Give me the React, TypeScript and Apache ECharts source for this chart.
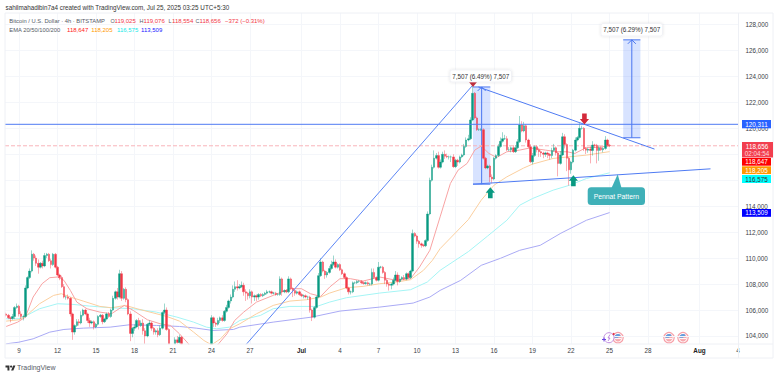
import React, { useEffect, useRef } from "react";
import * as echarts from "echarts";

const FONT = '"Liberation Sans", Arial, sans-serif';
const GREEN = "#089981";
const RED = "#f23645";

// x values are days counted from 9 June; every row below is one day of six 4h candles, starting on 8 June
const firstDay = -1;
const candlesPerDay = 6;
const axisMin = 103382;
const axisMax = 128888;

const closes = [
  105600, 105400, 105350, 105500, 106200, 106300,
  105700, 105500, 105500, 107700, 108500, 109000,
  110300, 110000, 109600, 109300, 109600, 109400,
  110200, 110300, 109800, 109500, 110300, 109300,
  108700, 108500, 107800, 107000, 107000, 106900,
  105700, 104300, 104800, 105100, 105000, 105600,
  106000, 105700, 105200, 105000, 105100, 104700,
  104900, 105500, 105600, 105100, 105300, 105700,
  105500, 106000, 106900, 107400, 107000, 108800,
  106900, 107600, 106800, 105700, 104200, 104600,
  104700, 105200, 104800, 105000, 104400, 104000,
  104900, 105000, 104600, 104300, 104400, 104100,
  104600, 105800, 106000, 104500, 103200, 102900,
  103100, 103700, 103500, 103900, 103200, 102500,
  102000, 101500, 100800, 100500, 100200, 99500,
  100800, 100500, 100700, 101000, 101500, 102400,
  105400, 105000, 104900, 105200, 105400, 105200,
  105900, 106200, 106700, 107000, 107600, 107800,
  107700, 107800, 107900, 107400, 107300, 107100,
  107400, 107000, 107100, 107000, 107200, 107100,
  107200, 107300, 107400, 107400, 107300, 107300,
  107200, 107200, 108400, 107400, 107500, 107400,
  108400, 107650, 107500, 107300, 107400, 107200,
  107100, 107100, 107000, 107000, 106000, 105450,
  106200, 107000, 108650, 109700, 109000, 108700,
  108900, 109200, 109500, 109700, 109300, 109500,
  109100, 108800, 108500, 107700, 107400, 107400,
  108100, 108100, 108200, 108200, 108100, 108050,
  108100, 108000, 108000, 108900, 108500, 108300,
  109300, 109300, 108900, 108300, 108000, 107900,
  108000, 108300, 108700, 108200, 108400, 108500,
  108400, 108800, 108500, 109000, 111900, 111700,
  111300, 111100, 111000, 110950, 111350, 113400,
  116000, 117000, 117700, 117900, 117000, 117400,
  118000, 117850, 117800, 117800, 117800, 117050,
  117550, 117400, 117800, 117950, 118600, 119100,
  119200, 120650, 122700, 120800, 119900, 119900,
  119900, 117700, 116950, 117100, 116250, 116100,
  117700, 117900, 118600, 119000, 119200, 119200,
  118350, 118350, 118500, 118200, 118500, 118970,
  120250, 119800, 120200, 119100, 118580, 117420,
  117900, 118580, 118350, 118200, 118100, 118000,
  118100, 118000, 117900, 118300, 118500, 118100,
  117300, 117950, 119350, 118750, 117700, 116800,
  117400, 118320, 119100, 119300, 120000, 120000,
  118450, 118320, 118400, 118300, 118710, 118700,
  118300, 118500, 118350, 118450, 119100, 118700,
  118656,
];

const upperWicks = [
  100, 100, 100, 200, 100, 200,
  100, 200, 150, 200, 100, 200,
  300, 100, 200, 300, 100, 200,
  200, 100, 100, 150, 100, 100,
  100, 100, 150, 200, 100, 200,
  100, 100, 100, 200, 200, 300,
  100, 100, 100, 200, 100, 100,
  100, 100, 100, 100, 100, 100,
  150, 100, 200, 100, 300, 300,
  200, 100, 150, 100, 200, 100,
  200, 100, 200, 200, 300, 200,
  100, 200, 100, 100, 100, 200,
  200, 100, 500, 200, 100, 100,
  100, 200, 300, 200, 100, 100,
  100, 100, 100, 100, 100, 100,
  100, 100, 100, 100, 100, 100,
  200, 100, 100, 200, 100, 200,
  100, 200, 100, 200, 300, 400,
  500, 200, 300, 200, 200, 100,
  200, 100, 100, 100, 100, 100,
  100, 100, 150, 100, 100, 100,
  100, 100, 200, 100, 100, 100,
  200, 100, 100, 100, 100, 100,
  100, 100, 100, 100, 100, 100,
  100, 100, 200, 300, 100, 100,
  100, 200, 300, 500, 200, 100,
  100, 100, 100, 100, 100, 100,
  100, 100, 100, 100, 100, 100,
  100, 100, 100, 300, 300, 100,
  400, 100, 100, 100, 100, 100,
  100, 200, 300, 200, 300, 100,
  200, 100, 100, 100, 300, 100,
  100, 100, 100, 100, 100, 200,
  200, 200, 600, 200, 300, 200,
  200, 300, 200, 100, 100, 200,
  100, 100, 100, 100, 200, 200,
  300, 200, 645, 100, 100, 100,
  100, 100, 100, 100, 100, 200,
  100, 100, 200, 300, 500, 300,
  200, 200, 100, 200, 200, 200,
  700, 300, 300, 100, 100, 200,
  200, 100, 100, 100, 100, 100,
  100, 100, 100, 200, 300, 100,
  100, 300, 300, 200, 100, 100,
  100, 100, 200, 100, 400, 200,
  100, 100, 100, 200, 300, 100,
  100, 200, 100, 100, 300, 100,
  100,
];

const lowerWicks = [
  100, 100, 300, 100, 200, 100,
  200, 200, 300, 100, 100, 100,
  100, 200, 200, 500, 100, 200,
  100, 200, 100, 300, 100, 100,
  100, 200, 100, 100, 200, 100,
  200, 600, 200, 100, 200, 100,
  100, 100, 200, 300, 100, 200,
  100, 100, 100, 200, 100, 100,
  100, 100, 100, 100, 200, 100,
  200, 100, 200, 100, 600, 300,
  200, 100, 300, 100, 300, 800,
  100, 100, 200, 200, 200, 200,
  100, 100, 100, 100, 300, 300,
  100, 100, 100, 100, 300, 300,
  200, 200, 200, 200, 300, 600,
  200, 200, 200, 200, 200, 200,
  300, 300, 200, 100, 200, 100,
  100, 100, 100, 200, 100, 200,
  200, 100, 100, 300, 600, 300,
  200, 500, 300, 300, 200, 100,
  100, 100, 100, 100, 100, 100,
  100, 100, 100, 300, 100, 100,
  100, 100, 500, 200, 100, 100,
  100, 200, 100, 200, 200, 300,
  100, 100, 100, 100, 100, 300,
  200, 100, 100, 100, 100, 100,
  100, 100, 100, 100, 200, 200,
  100, 100, 100, 100, 100, 100,
  100, 100, 100, 100, 100, 100,
  100, 100, 100, 300, 200, 400,
  300, 100, 100, 300, 100, 100,
  100, 100, 100, 100, 100, 100,
  200, 300, 200, 100, 100, 100,
  100, 100, 100, 100, 100, 100,
  100, 200, 100, 200, 400, 100,
  100, 300, 100, 100, 100, 100,
  100, 100, 100, 100, 100, 100,
  100, 100, 100, 100, 400, 350,
  100, 100, 100, 100, 100, 100,
  100, 100, 200, 100, 100, 100,
  100, 100, 100, 200, 100, 100,
  200, 100, 200, 400, 300, 300,
  200, 300, 300, 200, 100, 200,
  1000, 100, 100, 300, 1000, 1200,
  300, 100, 100, 100, 100, 100,
  200, 300, 200, 1000, 400, 200,
  1000, 800, 100, 200, 100, 100,
  100,
];

const ema20 = [
  [-1, 104734], [-0.1, 105068], [0.5, 105455], [1.1, 107000], [1.8, 108029], [2.4, 108492], [3, 108543],
  [3.5, 108286], [4, 107514], [4.5, 106613], [5.3, 106098], [6.3, 105840], [7.2, 105712], [8.2, 106355],
  [8.9, 105969], [10, 105249], [11, 104940], [11.8, 104811], [12.5, 104168], [13.2, 103396], [14, 102000],
  [15, 101800], [15.5, 103344], [16.2, 104168], [16.8, 105197], [17.5, 105838], [18.5, 106613], [19.8, 107128],
  [21.1, 107642], [22, 107642], [22.7, 107256], [23.5, 107050], [24.2, 107771], [25, 108415], [25.8, 108415],
  [26.8, 108234], [28.1, 108543], [29.4, 108286], [30.5, 108415], [31.2, 109316], [32, 110603], [32.8, 113177],
  [33.6, 115750], [34.2, 116780], [34.9, 117295], [35.5, 118324], [36, 118633], [36.6, 118067], [37.2, 117758],
  [38, 118196], [39, 118324], [39.8, 118490], [41, 118324], [41.9, 118195], [42.7, 118195], [43.3, 118066],
  [44.2, 118530], [45, 118530], [46, 118647],
];
const ema50 = [
  [-1, 105145], [0, 105249], [0.6, 105583], [1.6, 106484], [2.7, 107128], [3.3, 107257], [4, 107000],
  [5, 106690], [6.3, 106278], [7.2, 106175], [8.3, 106355], [9.2, 106098], [10.2, 105840], [11.5, 105506],
  [12.5, 105145], [13.6, 104296], [14.4, 103653], [15, 103318], [15.7, 103781], [16.4, 104554], [17.2, 104940],
  [18.5, 105712], [19.8, 106355], [21.1, 106690], [22.4, 106793], [23.5, 107000], [24.2, 107308], [25.5, 107720],
  [26.8, 107822], [28.1, 108028], [29.4, 108157], [30.5, 108337], [31.5, 109058], [32.2, 109830], [32.8, 110731],
  [35, 112970], [36, 114463], [37, 115622], [38, 116265], [39.3, 116940], [40, 117243], [41.6, 117680],
  [42.9, 117809], [44.2, 117938], [46, 118205],
];
const ema100 = [
  [-1, 105326], [0, 105326], [0.6, 105583], [1.6, 106098], [3, 106484], [4.2, 106433], [5.5, 106304],
  [7.2, 106175], [8.9, 106098], [10.7, 105840], [12.3, 105455], [13.6, 105068], [14.6, 104682], [15.4, 104554],
  [16.4, 104682], [17.2, 105197], [18.8, 105583], [19.8, 106100], [21.1, 106278], [23.2, 106278], [24.2, 106613],
  [25.5, 106948], [28.1, 107308], [30.5, 107565], [31.8, 108157], [32.8, 109058], [35, 110500], [36.5, 111700],
  [38, 112919], [39, 114077], [40, 114592], [41.6, 115235], [42.9, 115621], [44.2, 116136], [46, 116575],
];
const ema200 = [
  [-1, 103396], [0, 103524], [1.1, 103781], [2.4, 104296], [3.5, 104502], [5, 104605], [7.1, 104682],
  [8.6, 104862], [10.7, 104811], [12.5, 104734], [13.8, 104605], [15.1, 104425], [16.7, 104502], [17.2, 104682],
  [19.8, 105068], [22.8, 105455], [25, 105918], [28.1, 106227], [30.7, 106536], [32, 107000], [32.8, 107514],
  [34.4, 108286], [36, 109444], [37.5, 109985], [39, 110602], [40.6, 110988], [42.2, 111915], [44.2, 112920],
  [46, 113509],
];

const yTicks = [104000, 106000, 108000, 110000, 112000, 114000, 116000, 118000, 120000, 122000, 124000, 126000, 128000];
const yLabels = [104000, 106000, 108000, 110000, 112000, 114000, 120000, 122000, 124000, 126000, 128000];
const xTicks: [number, string][] = [
  [0, "9"], [3, "12"], [6, "15"], [9, "18"], [12, "21"], [15, "24"], [18, "27"], [22, "Jul"], [25, "4"], [28, "7"],
  [31, "10"], [34, "13"], [37, "16"], [40, "19"], [43, "22"], [46, "25"], [49, "28"], [53, "Aug"], [56, "4"],
];

const resistance = 120311;
const lastPrice = 118656;
const impulseLine = [[17.69, 103344], [35.36, 123344]];
const upperTrend = [[35.78, 123189], [49.5, 118402]];
const lowerTrend = [[35.36, 115699], [53.86, 116880]];
// dayFrom, dayTo, priceTop, priceBottom
const measures = [
  [35.36, 36.71, 123189, 115699],
  [47.06, 48.4, 126819, 119274],
];
// day, tip price, direction (1 up / -1 down), colour index, size
const arrows = [
  [36.71, 115467, 1, 0, 1],
  [43.18, 116394, 1, 0, 1],
  [44.04, 120294, -1, 1, 1],
  [35.36, 123189, -1, 2, 0.7],
];
const arrowColours = [GREEN, "#d3293a", "#c2303f"];

const flagXs = [618, 669, 683];

const logoPath = "M14 25H7V14H0V7h14v18zM28 25h-8l7.5-18h8L28 25zM24 11a4 4 0 1 1-8 0 4 4 0 0 1 8 0z";

function App() {
  const ref = useRef<HTMLDivElement>(null);
  useEffect(() => {
    const chart = echarts.init(ref.current!, undefined, { renderer: "svg" });
    echarts.graphic.registerShape("tvlogoMark", echarts.graphic.extendPath(logoPath as any, {} as any) as any);
    // the pane cuts candles off at its lower edge, as the reference does
    const cut = (v: number) => Math.max(v, axisMin);
    const candles = closes
      .map((c, i) => {
        const o = i === 0 ? 105700 : closes[i - 1];
        return [
          firstDay + i / candlesPerDay,
          cut(o),
          cut(c),
          cut(Math.min(o, c) - lowerWicks[i]),
          Math.max(o, c) + upperWicks[i],
        ];
      })
      .filter((d) => d[4] > axisMin);
    const lineSeries = (data: any, color: string, width = 1, type = "solid", z = 3) => ({
      type: "line",
      data,
      showSymbol: false,
      silent: true,
      z,
      lineStyle: { color, width, type },
    });
    const txt = (x: number, y: number, text: string, fill: string, extra: any = {}) => ({
      type: "text",
      x,
      y,
      z: 200,
      silent: true,
      style: { text, fill, font: `6.3px ${FONT}`, textVerticalAlign: "middle", ...extra },
    });
    const badge = (top: number, h: number, fill: string, text: string, color: string) => [
      { type: "rect", z: 190, silent: true, shape: { x: 742, y: top, width: 29, height: h }, style: { fill } },
      txt(756.5, top + h / 2, text, color, { textAlign: "center" }),
    ];
    const flag = (x: number) => ({
      type: "group",
      x,
      y: 337.7,
      z: 150,
      silent: true,
      children: [
        { type: "circle", shape: { r: 5.2 }, style: { fill: "#fff", stroke: "#f7a0a8", lineWidth: 1.2 } },
        { type: "circle", shape: { r: 3.7 }, style: { fill: "#f8aab0" } },
        { type: "sector", shape: { r: 3.7, startAngle: Math.PI, endAngle: Math.PI * 1.75 }, style: { fill: "#5f9fe0" } },
        { type: "rect", shape: { x: -3.5, y: 0.4, width: 7, height: 1 }, style: { fill: "#fff" } },
      ],
    });
    const option: any = {
      animation: false,
      backgroundColor: "#ffffff",
      grid: { left: 5, right: 41.5, top: 13, bottom: 32, containLabel: false },
      xAxis: {
        type: "value",
        min: -1.09,
        max: 56.04,
        axisLine: { show: false },
        axisTick: { show: false, customValues: xTicks.map((t) => t[0]) },
        splitLine: { show: true, lineStyle: { color: "#f4f6fa", width: 1 } },
        axisLabel: {
          customValues: xTicks.map((t) => t[0]),
          hideOverlap: false,
          showMinLabel: true,
          showMaxLabel: true,
          margin: 3.5,
          color: "#3a3d46",
          fontFamily: FONT,
          fontSize: 6.3,
          formatter: (v: number) => {
            const s = (xTicks.find((t) => t[0] === v) || [0, ""])[1] as string;
            return s === "Jul" || s === "Aug" ? `{b|${s}}` : s;
          },
          rich: { b: { fontWeight: "bold", color: "#222", fontFamily: FONT, fontSize: 6.3 } },
        },
      },
      yAxis: {
        type: "value",
        position: "right",
        min: axisMin,
        max: axisMax,
        axisLine: { show: false },
        axisTick: { show: false, customValues: yTicks },
        splitLine: { show: true, lineStyle: { color: "#f4f6fa", width: 1 } },
        axisLabel: {
          customValues: yLabels,
          hideOverlap: false,
          margin: 7,
          color: "#3a3d46",
          fontFamily: FONT,
          fontSize: 6.3,
          formatter: (v: number) => v.toLocaleString("en-US"),
        },
      },
      series: [
        {
          type: "custom",
          z: 1,
          silent: true,
          data: measures,
          encode: { x: [0, 1], y: [2, 3] },
          renderItem: (_: any, api: any) => {
            const a = api.coord([api.value(0), api.value(2)]);
            const b = api.coord([api.value(1), api.value(3)]);
            const mid = (a[0] + b[0]) / 2;
            const line = (x1: number, y1: number, x2: number, y2: number) => ({
              type: "line",
              shape: { x1, y1, x2, y2 },
              style: { stroke: "#4a76f0", lineWidth: 1 },
            });
            return {
              type: "group",
              children: [
                { type: "rect", shape: { x: a[0], y: a[1], width: b[0] - a[0], height: b[1] - a[1] }, style: { fill: "rgba(41,98,255,0.18)" } },
                line(a[0], a[1], b[0], a[1]),
                line(a[0], b[1], b[0], b[1]),
                line(mid, a[1], mid, b[1]),
                line(mid, a[1], mid - 4, a[1] + 4),
                line(mid, a[1], mid + 4, a[1] + 4),
              ],
            };
          },
        },
        lineSeries(ema200, "#aaaaf5"),
        lineSeries(ema100, "#a5f5f5"),
        lineSeries(ema50, "#fbcf9f"),
        lineSeries(ema20, "#f8a3a3"),
        {
          type: "candlestick",
          z: 4,
          silent: true,
          barWidth: 2,
          data: candles,
          encode: { x: 0, y: [1, 2, 3, 4] },
          itemStyle: { color: GREEN, color0: RED, borderColor: GREEN, borderColor0: RED, borderWidth: 0.4 },
        },
        lineSeries([[-1.09, lastPrice], [56.04, lastPrice]], "#f9b4ba", 1, "dashed", 2),
        lineSeries([[-1.09, resistance], [56.04, resistance]], "#4f7bf3", 1, "solid", 5),
        lineSeries(impulseLine, "#5b85f5", 1, "solid", 5),
        lineSeries(upperTrend, "#4f7bf3", 1, "solid", 5),
        lineSeries(lowerTrend, "#4f7bf3", 1, "solid", 5),
        {
          type: "custom",
          z: 6,
          silent: true,
          data: arrows,
          encode: { x: 0, y: 1 },
          renderItem: (_: any, api: any) => {
            const p = api.coord([api.value(0), api.value(1)]);
            const dir = api.value(2);
            const k = api.value(4);
            const fill = arrowColours[api.value(3)];
            const pts = k < 1
              ? [[-4, -5], [4, -5], [0, 0]]
              : [[0, 0], [4.6, 5.5], [2.3, 5.5], [2.3, 11], [-2.3, 11], [-2.3, 5.5], [-4.6, 5.5]];
            return {
              type: "polygon",
              shape: { points: pts.map((q) => [p[0] + q[0], p[1] + (k < 1 ? q[1] : q[1] * dir)]) },
              style: { fill },
            };
          },
        },
      ],
      graphic: [
        { type: "rect", z: 120, silent: true, shape: { x: 5, y: 13, width: 768, height: 345 }, style: { fill: "none", stroke: "#eef0f5", lineWidth: 1 } },
        { type: "line", z: 120, silent: true, shape: { x1: 738.5, y1: 13, x2: 738.5, y2: 358 }, style: { stroke: "#eef0f5", lineWidth: 1 } },
        { type: "line", z: 120, silent: true, shape: { x1: 5, y1: 344, x2: 773, y2: 344 }, style: { stroke: "#eef0f5", lineWidth: 1 } },
        txt(5.5, 7.5, "sahilmahadibin7a4 created with TradingView.com, Jul 25, 2025 03:25 UTC+5:30", "#333333"),
        txt(9.3, 21, "Bitcoin / U.S. Dollar · 4h · BITSTAMP", "#555a66", { font: `5.8px ${FONT}` }),
        txt(110.5, 21, "O", "#555a66", { font: `5.4px ${FONT}` }),
        txt(114.5, 21, "119,025", RED, { font: `6px ${FONT}` }),
        txt(139.5, 21, "H", "#555a66", { font: `5.4px ${FONT}` }),
        txt(143.5, 21, "119,076", RED, { font: `6px ${FONT}` }),
        txt(168.5, 21, "L", "#555a66", { font: `5.4px ${FONT}` }),
        txt(172, 21, "118,554", RED, { font: `6px ${FONT}` }),
        txt(195.5, 21, "C", "#555a66", { font: `5.4px ${FONT}` }),
        txt(199.5, 21, "118,656", RED, { font: `6px ${FONT}` }),
        txt(225, 21, "−372 (−0.31%)", RED, { font: `6px ${FONT}` }),
        txt(9.3, 29.8, "EMA 20/50/100/200", "#555a66", { font: `5.8px ${FONT}` }),
        txt(67, 29.8, "118,647", "#ff2020", { font: `6px ${FONT}` }),
        txt(91.3, 29.8, "118,205", "#ff9800", { font: `6px ${FONT}` }),
        txt(117, 29.8, "116,575", "#10e8e8", { font: `6px ${FONT}` }),
        txt(141, 29.8, "113,509", "#2020ff", { font: `6px ${FONT}` }),
        { type: "rect", z: 180, silent: true, shape: { x: 450, y: 70, width: 61.5, height: 12, r: 2 }, style: { fill: "#fff", stroke: "#eceef3", lineWidth: 0.7, shadowBlur: 3, shadowColor: "rgba(0,0,0,0.12)" } },
        txt(480.7, 76, "7,507 (6.49%) 7,507", "#333333", { textAlign: "center" }),
        { type: "rect", z: 180, silent: true, shape: { x: 601, y: 23.5, width: 61.5, height: 12.5, r: 2 }, style: { fill: "#fff", stroke: "#eceef3", lineWidth: 0.7, shadowBlur: 3, shadowColor: "rgba(0,0,0,0.12)" } },
        txt(631.7, 29.8, "7,507 (6.29%) 7,507", "#333333", { textAlign: "center" }),
        { type: "polygon", z: 180, silent: true, shape: { points: [[611.5, 188], [617.7, 174.3], [621.5, 188]] }, style: { fill: "#3fb0b8" } },
        { type: "rect", z: 180, silent: true, shape: { x: 587.7, y: 187.3, width: 57.3, height: 17.7, r: 3.5 }, style: { fill: "#3fb0b8" } },
        txt(616.3, 196.3, "Pennat Pattern", "#ffffff", { textAlign: "center", font: `6.8px ${FONT}` }),
        ...flagXs.map(flag),
        { type: "circle", z: 150, silent: true, shape: { cx: 609, cy: 337.7, r: 5 }, style: { fill: "#fff", stroke: "#c48fe0", lineWidth: 1 } },
        { type: "polyline", z: 151, silent: true, shape: { points: [[610, 334.5], [608, 338], [610, 338], [608, 341]] }, style: { stroke: "#b070d8", lineWidth: 0.8, fill: "none" } },
        { type: "line", z: 151, silent: true, shape: { x1: 602, y1: 339.5, x2: 606, y2: 339.5 }, style: { stroke: "#6a45e0", lineWidth: 1 } },
        { type: "line", z: 151, silent: true, shape: { x1: 604, y1: 337.5, x2: 604, y2: 341.5 }, style: { stroke: "#6a45e0", lineWidth: 1 } },
        { type: "circle", z: 152, silent: true, shape: { cx: 613.5, cy: 334, r: 1 }, style: { fill: "#e03040" } },
        ...badge(120, 8.3, "#2962ff", "120,311", "#ffffff"),
        { type: "rect", z: 190, silent: true, shape: { x: 742, y: 142, width: 31, height: 15.5 }, style: { fill: "#f23f4f" } },
        txt(757, 146, "118,656", "#ffffff", { textAlign: "center" }),
        txt(757, 153, "02:04:54", "#ffd8dc", { textAlign: "center" }),
        ...badge(158, 7.7, "#ff0000", "118,647", "#ffffff"),
        ...badge(166.3, 7.8, "#ff9800", "118,205", "#ffffff"),
        ...badge(175, 8, "#00ffff", "116,575", "#333333"),
        ...badge(209, 7.8, "#0000ff", "113,509", "#ffffff"),
        { type: "tvlogoMark", x: 5.5, y: 363.5, scaleX: 0.28, scaleY: 0.28, z: 200, silent: true, style: { fill: "#333333" } },
        txt(17, 367.3, "TradingView", "#555a66", { font: `7px ${FONT}` }),
      ],
    };
    chart.setOption(option);
    return () => chart.dispose();
  }, []);
  return <div ref={ref} style={{ position: "fixed", left: 0, top: 0, width: 780, height: 376 }} />;
}

export default App;
